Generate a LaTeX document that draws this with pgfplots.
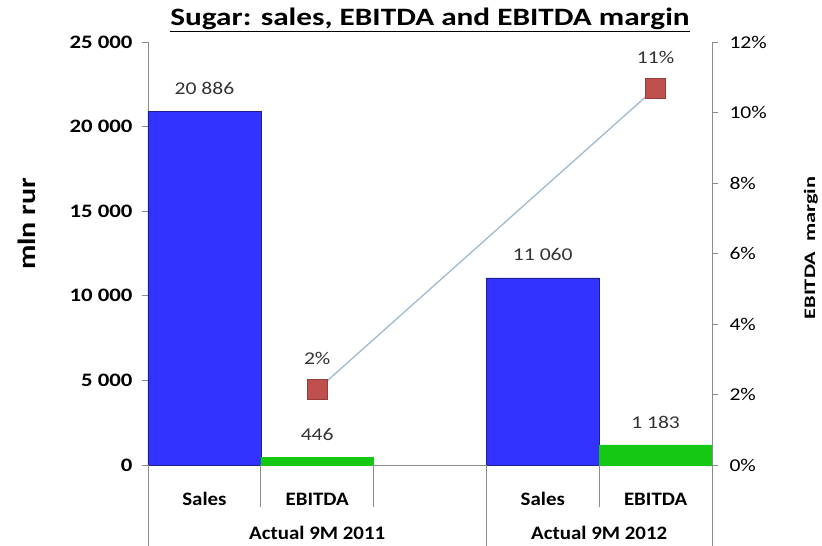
\documentclass[border=0pt]{standalone}
\usepackage{pgfplots}
\pgfplotsset{compat=1.18}
\usepackage{fontspec}
\setmainfont{Carlito}[FakeStretch=1.1]
\newfontfamily\titlefont{Carlito}[FakeStretch=1.25]
\newfontfamily\tickfont{Carlito}[FakeStretch=1.2]
\newfontfamily\widefont{Carlito}[FakeStretch=1.4]

\definecolor{barblue}{RGB}{51,51,255}
\definecolor{baredge}{RGB}{30,30,140}
\definecolor{bargreen}{RGB}{20,200,20}
\definecolor{mkred}{RGB}{192,80,77}
\definecolor{mkedge}{RGB}{150,60,60}
\definecolor{linecol}{RGB}{160,185,205}
\definecolor{axgray}{RGB}{140,140,140}

\pgfplotsset{
  /pgf/number format/assume math mode=true,
  /pgf/number format/1000 sep={\ },
  base/.style={
    at={(0,0)}, anchor=south west,
    scale only axis, width=564pt, height=423pt,
    xmin=-0.5, xmax=4.5,
    clip=false,
    tick align=outside,
    major tick length=6pt,
    tick style={axgray, line width=0.8pt},
    axis line style={-, axgray, line width=0.8pt},
  },
}

\begin{document}
\begin{tikzpicture}
\useasboundingbox (-148pt,-81pt) rectangle (674pt,465pt);

% left axis: sales and EBITDA, mln rur
\begin{axis}[
    base,
    ymin=0, ymax=25000,
    axis x line*=bottom, axis y line*=left,
    x axis line style={-}, y axis line style={-},
    ytick={0,5000,...,25000},
    scaled y ticks=false,
    yticklabel style={font=\tickfont\bfseries\fontsize{19}{19}\selectfont, xshift=-6pt},
    xtick={0,1,3,4},
    xticklabels={Sales,EBITDA,Sales,EBITDA},
    x tick style={draw=none},
    xticklabel style={font=\bfseries\fontsize{19}{19}\selectfont, anchor=center, yshift=-28pt},
    ylabel={mln rur},
    ylabel style={at={(axis description cs:-0.214,0.57)}, anchor=center, font=\tickfont\bfseries\fontsize{25}{25}\selectfont},
    title={\setlength{\fboxsep}{0pt}\underline{Sugar: sales, EBITDA and EBITDA margin}},
    title style={at={(axis description cs:0.5,1)}, anchor=base, yshift=10pt, font=\titlefont\bfseries\fontsize{25}{25}\selectfont},
    every node near coord/.append style={font=\tickfont\fontsize{18}{18}\selectfont, text=black!80, anchor=center, yshift=23pt},
]
\addplot[ybar, bar width=112.8pt, bar shift=0pt, fill=barblue, draw=baredge, nodes near coords]
  coordinates {(0,20886) (3,11060)};
\addplot[ybar, bar width=112.8pt, bar shift=0pt, fill=bargreen, draw=bargreen, nodes near coords]
  coordinates {(1,446) (4,1183)};

% category separators and group labels
\draw[axgray, line width=0.8pt] (axis cs:0.5,0) -- ++(0pt,-42pt);
\draw[axgray, line width=0.8pt] (axis cs:1.5,0) -- ++(0pt,-42pt);
\draw[axgray, line width=0.8pt] (axis cs:3.5,0) -- ++(0pt,-42pt);
\draw[axgray, line width=0.8pt] (axis cs:-0.5,0) -- ++(0pt,-81pt);
\draw[axgray, line width=0.8pt] (axis cs:2.5,0) -- ++(0pt,-81pt);
\draw[axgray, line width=0.8pt] (axis cs:4.5,0) -- ++(0pt,-81pt);
\node[font=\bfseries\fontsize{19}{19}\selectfont] at ([yshift=-68pt]axis cs:1,0) {Actual 9M 2011};
\node[font=\bfseries\fontsize{19}{19}\selectfont] at ([yshift=-68pt]axis cs:3.5,0) {Actual 9M 2012};
\end{axis}

% right axis: EBITDA margin, %
\begin{axis}[
    base,
    ymin=0, ymax=12,
    axis x line=none, axis y line*=right,
    y axis line style={-},
    ytick={0,2,...,12},
    yticklabel={\pgfmathprintnumber{\tick}\%},
    yticklabel style={font=\tickfont\fontsize{18}{18}\selectfont, xshift=8pt},
    ylabel={EBITDA\ \ margin},
    ylabel style={at={(axis description cs:1.1755,0.513)}, anchor=center, rotate=0, font=\widefont\bfseries\fontsize{16}{16}\selectfont},
]
\addplot[linecol, line width=1.3pt, mark=square*, mark size=10pt,
  mark options={fill=mkred, draw=mkedge, line width=0.6pt},
  nodes near coords={\pgfmathprintnumber[fixed,precision=0]{\pgfplotspointmeta}\%},
  every node near coord/.append style={font=\tickfont\fontsize{18}{18}\selectfont, text=black!80, anchor=center, yshift=31pt}]
  coordinates {(1,2.135) (4,10.696)};
\end{axis}
\end{tikzpicture}
\end{document}
